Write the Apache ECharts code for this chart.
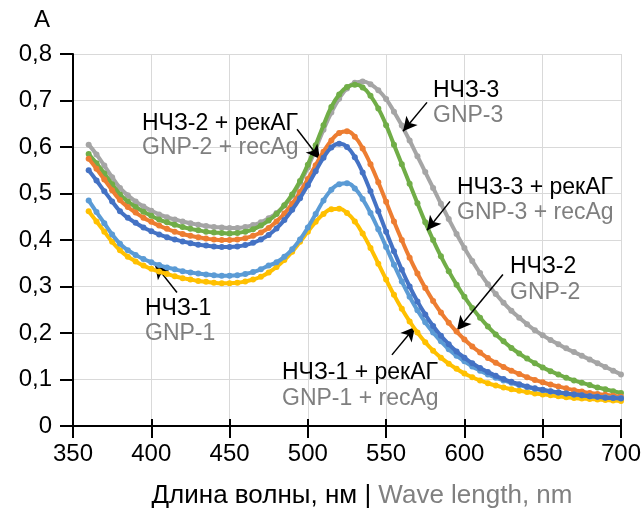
<!DOCTYPE html>
<html><head><meta charset="utf-8">
<script src="https://cdn.jsdelivr.net/npm/echarts@6/dist/echarts.min.js"></script>
<style>html,body{margin:0;padding:0;background:#fff}#c{width:644px;height:514px}</style>
</head><body><div id="c"></div>
<script>
const wavelength = [360,365,370,375,380,385,390,395,400,405,410,415,420,425,430,435,440,445,450,455,460,465,470,475,480,485,490,495,500,505,510,515,520,525,530,535,540,545,550,555,560,565,570,575,580,585,590,595,600,605,610,615,620,625,630,635,640,645,650,655,660,665,670,675,680,685,690,695,700];
const gnp3 = [0.605,0.584,0.560,0.535,0.512,0.496,0.483,0.472,0.463,0.455,0.449,0.444,0.440,0.436,0.433,0.430,0.428,0.427,0.426,0.426,0.428,0.432,0.438,0.447,0.458,0.474,0.495,0.523,0.556,0.596,0.637,0.674,0.704,0.726,0.738,0.741,0.735,0.722,0.703,0.676,0.646,0.614,0.580,0.546,0.512,0.478,0.445,0.413,0.383,0.355,0.329,0.305,0.284,0.265,0.248,0.233,0.219,0.206,0.195,0.185,0.176,0.167,0.159,0.151,0.143,0.135,0.127,0.119,0.111];
const gnp3rec = [0.585,0.565,0.543,0.520,0.498,0.483,0.471,0.461,0.452,0.444,0.438,0.433,0.428,0.424,0.421,0.418,0.416,0.415,0.414,0.415,0.418,0.423,0.431,0.442,0.456,0.475,0.498,0.527,0.562,0.604,0.647,0.686,0.713,0.729,0.734,0.728,0.710,0.683,0.647,0.605,0.563,0.521,0.479,0.438,0.400,0.365,0.333,0.304,0.278,0.254,0.233,0.214,0.197,0.182,0.168,0.156,0.145,0.135,0.126,0.118,0.111,0.104,0.098,0.093,0.088,0.083,0.079,0.075,0.071];
const gnp2 = [0.575,0.553,0.530,0.507,0.486,0.471,0.459,0.448,0.439,0.431,0.424,0.418,0.413,0.409,0.406,0.403,0.401,0.400,0.400,0.401,0.404,0.409,0.416,0.426,0.440,0.457,0.478,0.503,0.531,0.561,0.590,0.614,0.630,0.634,0.622,0.597,0.563,0.524,0.482,0.440,0.400,0.362,0.328,0.297,0.269,0.244,0.222,0.203,0.186,0.171,0.158,0.146,0.136,0.127,0.119,0.112,0.105,0.099,0.094,0.089,0.085,0.081,0.077,0.074,0.071,0.069,0.067,0.065,0.063];
const gnp2rec = [0.550,0.528,0.505,0.483,0.462,0.448,0.437,0.427,0.419,0.412,0.406,0.401,0.397,0.393,0.390,0.388,0.386,0.385,0.385,0.386,0.389,0.394,0.401,0.411,0.425,0.443,0.465,0.490,0.518,0.548,0.577,0.599,0.607,0.600,0.578,0.545,0.505,0.462,0.418,0.376,0.336,0.300,0.268,0.240,0.215,0.194,0.176,0.160,0.147,0.135,0.125,0.116,0.108,0.101,0.095,0.090,0.085,0.081,0.078,0.075,0.072,0.070,0.068,0.066,0.064,0.063,0.061,0.060,0.059];
const gnp1 = [0.485,0.460,0.436,0.412,0.392,0.378,0.368,0.359,0.352,0.346,0.341,0.337,0.333,0.330,0.328,0.326,0.324,0.323,0.323,0.324,0.327,0.331,0.337,0.345,0.352,0.364,0.380,0.401,0.427,0.456,0.485,0.508,0.520,0.522,0.511,0.488,0.458,0.423,0.385,0.347,0.311,0.278,0.249,0.223,0.201,0.182,0.165,0.151,0.139,0.128,0.119,0.111,0.104,0.098,0.093,0.088,0.084,0.080,0.077,0.074,0.072,0.070,0.068,0.066,0.064,0.063,0.062,0.061,0.060];
const gnp1rec = [0.462,0.440,0.418,0.396,0.378,0.364,0.354,0.345,0.338,0.332,0.327,0.322,0.318,0.315,0.312,0.310,0.308,0.307,0.307,0.308,0.311,0.315,0.321,0.330,0.342,0.357,0.375,0.396,0.418,0.439,0.456,0.466,0.467,0.458,0.440,0.414,0.383,0.349,0.315,0.282,0.252,0.225,0.201,0.180,0.162,0.147,0.134,0.123,0.113,0.105,0.098,0.092,0.087,0.083,0.079,0.076,0.073,0.070,0.068,0.066,0.064,0.062,0.060,0.059,0.058,0.057,0.056,0.055,0.054];
const seriesNames = ['GNP-3','GNP-3 + recAg','GNP-2','GNP-1 + recAg','GNP-1','GNP-2 + recAg'];
const seriesValues = [gnp3, gnp3rec, gnp2, gnp1rec, gnp1, gnp2rec];
const seriesColors = ['#A5A5A5','#70AD47','#ED7D31','#FFC000','#5B9BD5','#4472C4'];
const xTicks = [350,400,450,500,550,600,650,700];
const yTicks = [0,0.1,0.2,0.3,0.4,0.5,0.6,0.7,0.8];

const FONT = '"Liberation Sans", Arial, sans-serif';
const chart = echarts.init(document.getElementById('c'), null, {renderer:'canvas'});

const series = seriesValues.map((vals, i) => ({
  name: seriesNames[i], type: 'line', smooth: true,
  data: wavelength.map((w, j) => [w, vals[j]]),
  symbol: 'circle', symbolSize: 6, showSymbol: true,
  lineStyle: {color: seriesColors[i], width: 4},
  itemStyle: {color: seriesColors[i]},
  z: 3 + i
}));
// arrows (data coordinates)
const arrows = [
  [[493.1,0.638],[507.8,0.574]],
  [[576.1,0.696],[560.8,0.634]],
  [[590.8,0.483],[576.1,0.421]],
  [[624.6,0.326],[595.3,0.206]],
  [[416.4,0.287],[402.4,0.347]],
  [[553.7,0.153],[568.4,0.213]]
];
series.push({
  type: 'line', data: [], z: 20, silent: true,
  markLine: {
    silent: true, animation: false,
    symbol: ['none','arrow'], symbolSize: [11, 14],
    label: {show: false},
    lineStyle: {color: '#000', width: 1.5, type: 'solid'},
    data: arrows.map(a => [{coord: a[0]}, {coord: a[1]}])
  }
});

const annot = [
  ['НЧЗ-2 + рекАГ', 'GNP-2 + recAg', 142, 124, 148],
  ['НЧЗ-3', 'GNP-3', 433, 91, 116],
  ['НЧЗ-3 + рекАГ', 'GNP-3 + recAg', 457, 188, 213],
  ['НЧЗ-2', 'GNP-2', 510, 267, 293],
  ['НЧЗ-1', 'GNP-1', 145, 309, 334],
  ['НЧЗ-1 + рекАГ', 'GNP-1 + recAg', 282, 373, 399]
];
const graphic = [];
annot.forEach(a => {
  graphic.push({type:'text', left:a[2], top:a[3]-12, z:30, style:{text:a[0], fill:'#000', font:'23px '+FONT}});
  graphic.push({type:'text', left:a[2], top:a[4]-12, z:30, style:{text:a[1], fill:'#7f7f7f', font:'23px '+FONT}});
});

const fmt = v => v === 0 ? '0' : v.toFixed(1).replace('.', ',');

chart.setOption({
  animation: false,
  backgroundColor: '#fff',
  grid: {left: 73, right: 23, top: 54, bottom: 84, containLabel: false},
  xAxis: [{
    type: 'value', min: 350, max: 700, interval: 50,
    axisLine: {show: true, lineStyle: {color: '#000', width: 2}},
    axisTick: {show: true, length: 12, lineStyle: {color: '#000', width: 2}},
    axisLabel: {color: '#000', fontSize: 24, fontFamily: FONT, margin: 16},
    splitLine: {show: true, lineStyle: {color: '#d9d9d9', width: 1}},
    name: '{a|Длина волны, нм | }{b|Wave length, nm}',
    nameLocation: 'middle', nameGap: 57,
    nameTextStyle: {padding: [0,0,0,30], rich: {
      a: {color: '#000', fontSize: 26, fontFamily: FONT},
      b: {color: '#808080', fontSize: 26, fontFamily: FONT}}}
  }, {
    type: 'value', min: 350, max: 700, interval: 50, position: 'bottom',
    axisLine: {show: false}, axisLabel: {show: false}, splitLine: {show: false},
    axisTick: {show: true, inside: true, length: 7, lineStyle: {color: '#000', width: 2}}
  }],
  yAxis: {
    type: 'value', min: 0, max: 0.8, interval: 0.1,
    axisLine: {show: true, lineStyle: {color: '#000', width: 2}},
    axisTick: {show: true, length: 13, lineStyle: {color: '#000', width: 2}},
    axisLabel: {color: '#000', fontSize: 24, fontFamily: FONT, margin: 21, formatter: fmt},
    splitLine: {show: true, lineStyle: {color: '#d9d9d9', width: 1}},
    name: 'A', nameLocation: 'end', nameGap: 22,
    nameTextStyle: {color: '#000', fontSize: 24, fontFamily: FONT, padding: [0, 62, 0, 0]}
  },
  series: series,
  graphic: graphic
});
</script></body></html>
